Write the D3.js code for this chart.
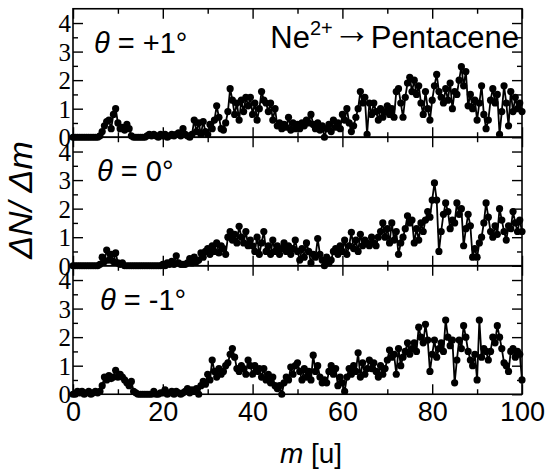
<!DOCTYPE html>
<html>
<head>
<meta charset="utf-8">
<script src="https://cdn.jsdelivr.net/npm/d3@7"></script>
<style>
  body { margin: 0; background: #fff; }
  svg { display: block; }
  .sans { font-family: "Liberation Sans", Arial, Helvetica, sans-serif; }
  .serif { font-family: "Liberation Serif", "Times New Roman", Times, serif; }
</style>
</head>
<body>
<script>
// mass grid, 0.5 u steps
const massGrid = d3.range(0, 100.01, 0.5);

// dN/dm (theta = +1, 0, -1 deg)
const plus1 = [
  0,0,0,0,0,0,0,0,0,0,
  0,0,0.05,0.2,0.4,0.55,0.6,0.3,0.8,1.0,
  0.5,0.3,0.35,0.25,0.45,0.3,0.05,0,0,0,
  0,0,0,0.05,0.1,0.05,0.1,0.05,0,0.1,
  0.05,0.1,0,0.05,0.1,0.05,0.1,0.15,0.05,0.3,
  0.1,0.05,0,0.1,0.6,0.2,0.5,0.1,0.55,0.2,
  0.1,0.45,0.3,0.6,1.1,0.7,0.3,0.25,0.5,0.9,
  1.7,1.3,0.8,1.2,0.6,1.3,0.9,1.4,1.1,1.4,
  0.8,1.2,0.6,1.0,1.6,1.3,1.2,0.9,1.2,0.6,
  1.0,0.4,0.5,0.3,0.45,0.35,0.7,0.25,0.5,0.3,
  0.45,0.3,0.5,0.4,0.6,0.5,0.8,0.45,0.3,0.5,
  0.25,0.4,0.0,0.3,0.45,0.2,0.6,0.35,0.5,0.3,
  0.8,0.6,1.0,0.5,0.2,0.4,0.7,1.0,1.6,1.2,
  1.4,0.1,1.2,0.8,1.2,0.9,0.6,1.0,0.7,0.9,
  1.1,0.8,1.0,0.7,1.6,1.7,1.2,0.7,1.4,1.9,
  2.1,1.6,2.0,1.5,1.8,1.2,0.8,1.6,1.0,0.6,
  1.3,1.8,2.2,1.6,1.4,1.2,1.7,1.3,1.9,1.0,
  1.6,1.5,2.0,2.47,1.8,2.3,1.1,1.5,1.0,1.3,
  0.6,1.2,1.8,0.8,0.3,0.6,1.3,1.7,1.2,1.5,
  0.1,0.9,1.8,1.2,0.4,1.6,0.9,1.4,1.0,1.2,
  0.9
];
const zero = [
  0,0,0,0,0,0,0,0,0,0,
  0,0,0.05,0.3,0.15,0.55,0.2,0.4,0.15,0.45,
  0.1,0.05,0.1,0,0,0,0,0,0,0,
  0,0,0,0,0,0,0,0,0,0,
  0.05,0,0.1,0.05,0.15,0.05,0.35,0.1,0.05,0.05,
  0.05,0.1,0.25,0.1,0.3,0.15,0.2,0.45,0.3,0.5,
  0.6,0.4,0.7,0.5,0.8,0.45,0.7,0.6,0.4,1.0,
  1.2,0.9,1.1,0.8,1.38,1.0,0.8,1.2,0.7,0.9,
  0.7,0.5,1.0,0.4,0.8,1.2,0.5,0.7,0.4,0.9,
  0.5,0.7,0.4,0.6,0.8,0.5,0.7,0.4,0.6,0.9,
  0.5,0.2,0.6,0.3,0.8,0.5,0.1,0.4,0.3,0.95,
  0.4,0.2,0.0,0.3,0.1,0.2,0.5,0.6,0.4,0.7,
  0.5,0.9,0.4,0.7,1.17,0.6,0.9,0.5,1.1,0.7,
  0.9,0.8,0.7,1.0,0.8,0.7,1.0,1.2,1.5,1.0,
  1.3,0.8,1.5,0.9,1.2,0.4,0.8,1.0,1.3,1.75,
  1.5,1.6,0.8,1.3,0.9,1.5,1.2,1.6,1.9,1.7,
  2.3,2.9,2.3,0.5,1.2,1.8,2.2,1.9,1.3,1.6,
  1.5,2.2,1.8,2.0,0.7,1.3,1.8,1.4,0.3,0.6,
  0.3,0.8,1.0,1.5,2.2,1.7,1.2,1.0,1.4,1.1,
  2.0,1.6,1.2,0.9,1.4,1.3,1.9,1.5,1.2,1.6,
  1.2
];
const minus1 = [
  0,0,0.1,0.05,0.1,0,0.05,0.1,0,0.05,
  0.1,0.05,0.1,0.3,0.6,0.5,0.65,0.55,0.6,0.84,
  0.6,0.7,0.6,0.5,0.4,0.3,0.45,0.1,0.05,0,
  0,0,0,0,0,0,0.1,0,0,0.05,
  0.05,0.15,0,0.05,0.1,0,0.1,0.05,0,0.05,
  0.1,0.2,0.05,0.15,0.1,0.2,0,0.3,0.45,0.35,
  0.7,0.5,1.2,0.8,0.6,0.9,0.7,0.8,1.0,1.1,
  1.4,1.6,1.3,0.9,0.8,1.0,0.9,0.7,1.2,1.0,
  0.7,1.0,0.8,0.9,0.6,0.9,0.5,0.7,0.4,0.6,
  0.3,0.2,0.3,0.0,0.4,0.6,0.5,0.95,0.7,1.0,
  1.1,0.8,0.5,0.9,0.6,0.8,0.5,1.37,0.8,1.0,
  0.6,0.4,0.5,0.4,0.8,1.0,0.7,0.9,0.3,0.6,
  0.4,0.1,0.6,0.9,0.7,1.0,0.8,1.45,0.6,1.1,
  0.7,0.9,1.2,0.9,1.1,0.8,0.6,1.0,0.7,0.9,
  1.2,1.55,1.3,1.4,0.7,1.6,1.0,1.3,1.5,1.8,
  1.4,1.6,1.8,1.5,2.35,2.0,1.8,2.45,1.9,0.8,
  1.4,1.9,1.3,1.6,1.8,1.5,2.6,2.0,1.7,1.9,
  0.4,1.2,1.9,1.6,2.4,2.0,1.5,1.2,1.0,1.4,
  0.5,2.6,1.3,1.6,1.5,1.2,1.5,2.0,1.8,2.4,
  2.0,1.6,1.1,1.0,0.8,1.5,1.6,1.3,1.5,1.4,
  0.5
];

const panelSeries = [plus1, zero, minus1];
const panelAngles = ["+1°", "0°", "-1°"];
const xMajor = [0, 20, 40, 60, 80, 100];
const xMinor = [10, 30, 50, 70, 90];
const yMajor = [0, 1, 2, 3, 4];
const yMinor = [0.5, 1.5, 2.5, 3.5];

const W = 548, H = 474;
const plotLeft = 73, plotRight = 522, plotTop = 8.75, panelH = 128.5;

const svg = d3.select("body").append("svg")
    .attr("width", W).attr("height", H)
    .style("background", "#fff");

const x = d3.scaleLinear().domain([0, 100]).range([plotLeft, plotRight]);

panelSeries.forEach(function(vals, p) {
  const y0 = plotTop + p * panelH, y1 = y0 + panelH;
  const y = d3.scaleLinear().domain([0, 4.5]).range([y1, y0]);
  const g = svg.append("g");

  // data: connecting line and dots
  const pts = vals.map(function(v, i) { return [massGrid[i], v]; });
  g.append("path")
      .datum(pts)
      .attr("fill", "none")
      .attr("stroke", "#000")
      .attr("stroke-width", 1.8)
      .attr("d", d3.line().x(d => x(d[0])).y(d => y(d[1])));
  g.selectAll("circle")
      .data(pts)
      .enter().append("circle")
      .attr("cx", d => x(d[0]))
      .attr("cy", d => y(d[1]))
      .attr("r", 3.6)
      .attr("fill", "#000");

  // ticks, all pointing inward
  function addAxis(axis, tr, labels) {
    const a = g.append("g").attr("transform", tr).call(axis)
        .attr("font-family", null).attr("font-size", null);
    a.select(".domain").remove();
    a.selectAll("line").attr("stroke", "#000").attr("stroke-width", 1.4);
    if (!labels) a.selectAll("text").remove();
    return a;
  }
  const yl = addAxis(d3.axisLeft(y).tickValues(yMajor).tickSize(-10).tickPadding(2).tickFormat(d3.format("d")),
      "translate(" + plotLeft + ",0)", true);
  yl.selectAll("text")
      .attr("class", "serif")
      .style("font-size", "25px").attr("fill", "#000")
      .attr("dy", "0.34em");
  addAxis(d3.axisLeft(y).tickValues(yMinor).tickSize(-5), "translate(" + plotLeft + ",0)", false);
  addAxis(d3.axisRight(y).tickValues(yMajor).tickSize(-10), "translate(" + plotRight + ",0)", false);
  addAxis(d3.axisRight(y).tickValues(yMinor).tickSize(-5), "translate(" + plotRight + ",0)", false);
  addAxis(d3.axisTop(x).tickValues(xMajor).tickSize(-10), "translate(0," + y0 + ")", false);
  addAxis(d3.axisTop(x).tickValues(xMinor).tickSize(-5), "translate(0," + y0 + ")", false);
  const xb = addAxis(d3.axisBottom(x).tickValues(xMajor).tickSize(-10).tickPadding(8),
      "translate(0," + y1 + ")", p === 2);
  addAxis(d3.axisBottom(x).tickValues(xMinor).tickSize(-5), "translate(0," + y1 + ")", false);
  if (p === 2) {
    xb.selectAll("text")
        .attr("class", "sans")
        .style("font-size", "27px").attr("fill", "#000");
  }

  // frame
  g.append("rect")
      .attr("x", plotLeft).attr("y", y0)
      .attr("width", plotRight - plotLeft).attr("height", panelH)
      .attr("fill", "none").attr("stroke", "#000").attr("stroke-width", 1.6);

  // theta label
  const lab = g.append("text")
      .attr("class", "sans")
      .attr("x", 94 + p * 3).attr("y", y0 + 44)
      .style("font-size", "29px").attr("fill", "#000");
  lab.append("tspan").attr("font-style", "italic").text("θ");
  lab.append("tspan").text(" = " + panelAngles[p]);
});

// reaction label
const rx = svg.append("text")
    .attr("class", "sans")
    .attr("x", 519).attr("y", 48)
    .attr("text-anchor", "end")
    .style("font-size", "31px").attr("fill", "#000");
rx.append("tspan").text("Ne");
rx.append("tspan").attr("dy", -13).style("font-size", "20px").text("2+");
rx.append("tspan").attr("dy", 8).style("font-size", "38px").text("→");
rx.append("tspan").attr("dy", 5).text("Pentacene");

// axis titles
const xt = svg.append("text")
    .attr("class", "sans")
    .attr("x", 311).attr("y", 463)
    .attr("text-anchor", "middle")
    .style("font-size", "28px").attr("fill", "#000");
xt.append("tspan").attr("font-style", "italic").text("m");
xt.append("tspan").text(" [u]");

svg.append("text")
    .attr("class", "sans")
    .attr("transform", "translate(32,200) rotate(-90)")
    .attr("text-anchor", "middle")
    .style("font-size", "34px").attr("font-style", "italic")
    .attr("fill", "#000")
    .text("ΔN/ Δm");
</script>
</body>
</html>
